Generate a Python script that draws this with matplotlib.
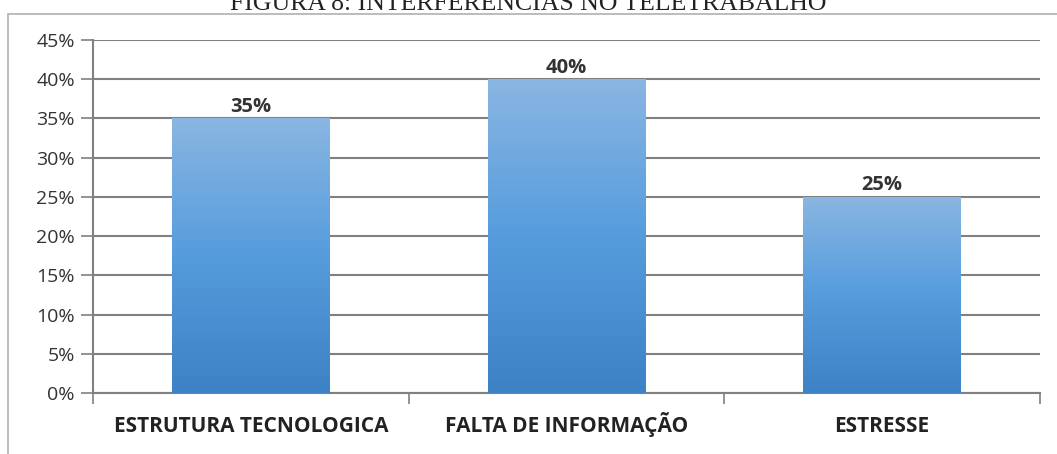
import numpy as np
import matplotlib.pyplot as plt
from matplotlib.patches import Rectangle
from matplotlib.colors import LinearSegmentedColormap
from matplotlib.transforms import blended_transform_factory, offset_copy

categories = ['ESTRUTURA TECNOLOGICA', 'FALTA DE INFORMAÇÃO', 'ESTRESSE']
values = [35, 40, 25]
yticks = [0, 5, 10, 15, 20, 25, 30, 35, 40, 45]

fig = plt.figure(figsize=(10.57, 4.54), dpi=100)

# outer chart frame
fig.patches.append(Rectangle((8 / 1057, -0.05), 1.2, 1 - 14 / 454 + 0.05,
                             transform=fig.transFigure, fill=False,
                             edgecolor='#b0b0b0', linewidth=1.2))

fig.text(0.5, 1 - 10 / 454, 'FIGURA 8: INTERFERÊNCIAS NO TELETRABALHO',
         ha='center', va='baseline', fontsize=18.5, family='Liberation Serif',
         color='#222222')

ax = fig.add_axes([93 / 1057, 1 - 393 / 454, (1040 - 93) / 1057, (393 - 40) / 454])

x = np.arange(len(categories))
bars = ax.bar(x, values, width=0.5, color='none', edgecolor='none', zorder=3)

cmap = LinearSegmentedColormap.from_list('g', ['#3d82c4', '#559cdd', '#8ab6e2'])
grad = np.linspace(0, 1, 256).reshape(-1, 1)
for b in bars:
    im = ax.imshow(grad, cmap=cmap, origin='lower', aspect='auto',
                   extent=(b.get_x(), b.get_x() + b.get_width(), 0, b.get_height()),
                   zorder=3)
    im.set_clip_path(b)

for xi, v in zip(x, values):
    ax.text(xi, v + 0.85, f'{v}%', ha='center', va='baseline', fontsize=14.5,
            fontweight='bold', family='Open Sans', color='#333333')

ax.set_xlim(-0.5, len(categories) - 0.5)
ax.set_ylim(0, 45)
ax.set_yticks(yticks)
ax.set_yticklabels([f'{t}%' for t in yticks], family='Open Sans', fontsize=14,
                   color='#333333')
ax.yaxis.grid(True, color='#808080', linewidth=1.5, zorder=0)
ax.set_axisbelow(True)

ax.set_xticks(np.arange(len(categories) + 1) - 0.5)
ax.set_xticklabels([])
ax.tick_params(axis='x', which='major', length=8, color='#808080', width=1.2)
ax.tick_params(axis='y', length=9, color='#808080', width=1.2, pad=4)

# category labels on a common baseline
trans = offset_copy(blended_transform_factory(ax.transData, ax.transAxes),
                    fig=fig, y=-39, units='dots')
for xi, c in zip(x, categories):
    ax.text(xi, 0, c, transform=trans, ha='center', va='baseline',
            family='Open Sans', fontsize=15, fontweight='bold', color='#222222')

for s in ['top', 'right']:
    ax.spines[s].set_visible(False)
for s in ['left', 'bottom']:
    ax.spines[s].set_color('#808080')
    ax.spines[s].set_linewidth(1.5)

fig.savefig('out.png', dpi=100)
